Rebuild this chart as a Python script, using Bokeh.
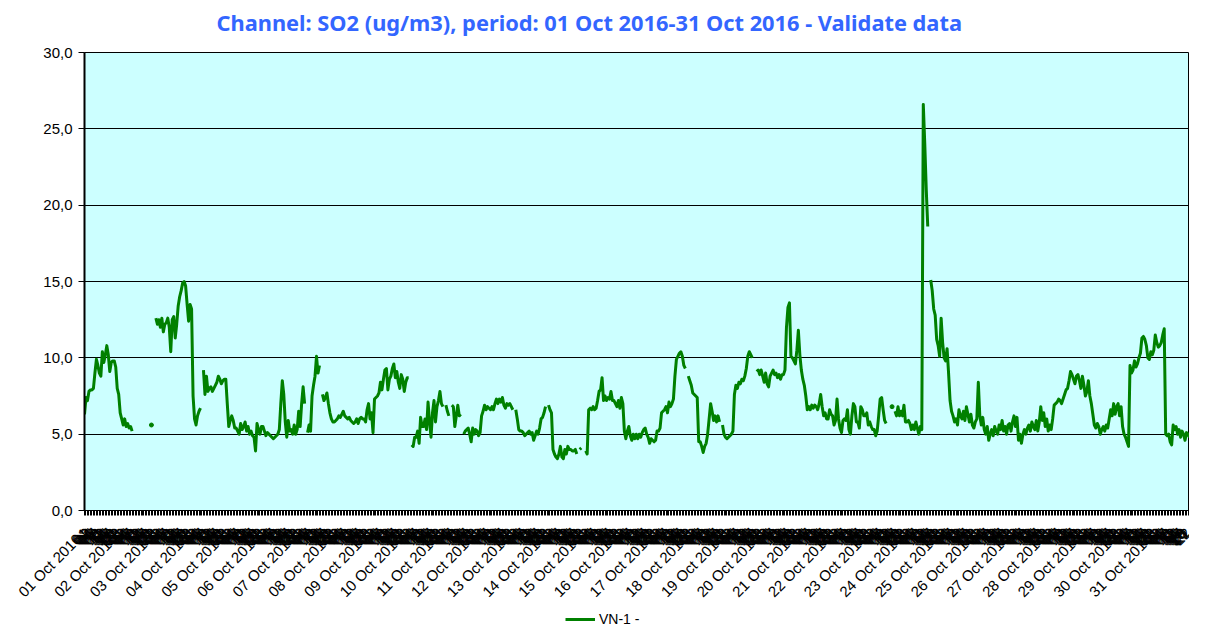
import math
from bokeh.plotting import figure
from bokeh.layouts import column
from bokeh.models import FixedTicker, Range1d, Legend, LegendItem, ColumnDataSource, Label
from bokeh.embed import file_html
from bokeh.resources import INLINE

nan = float("nan")

# Hourly SO2 values (ug/m3), one list per day of October 2016 (NaN = no data)
oct01 = [6.3, 7.4, 7.2, 7.8, 7.9, 7.9, 8.0, 9.0, 9.9, 9.5, 9.0, 8.8, 10.4, 9.7, 10.2, 10.8, 10.2, 9.1, 9.7, 9.8, 9.8, 9.4, 8.0, 7.6]
oct02 = [6.4, 6.0, 5.6, 6.0, 5.5, 5.7, 5.4, 5.5, 5.2, nan, nan, nan, nan, nan, nan, nan, nan, nan, nan, nan, nan, 5.6, nan, nan]
oct03 = [12.6, 12.2, 12.5, 12.0, 12.6, 11.7, 12.2, 12.3, 12.6, 12.0, 10.4, 12.5, 12.7, 11.3, 12.2, 13.4, 14.0, 14.4, 14.9, 15.0, 14.7, 13.5, 12.4, 13.5]
oct04 = [13.2, 7.5, 6.0, 5.6, 6.2, 6.5, 6.7, nan, 9.2, 7.6, 8.8, 7.8, 8.0, 8.1, 7.8, 8.0, 8.2, 8.4, 8.8, 8.6, 8.3, 8.5, 8.6, 8.6]
oct05 = [7.0, 5.5, 5.9, 6.2, 5.9, 5.4, 5.4, 5.2, 5.0, 5.7, 5.3, 5.5, 5.8, 5.2, 5.5, 5.0, 5.2, 4.9, 4.8, 3.9, 5.7, 5.3, 5.0, 5.5]
oct06 = [5.5, 5.2, 4.9, 5.1, 5.0, 4.9, 4.8, 4.7, 4.8, 4.9, 5.0, 5.3, 7.0, 8.5, 7.6, 5.8, 4.8, 5.9, 5.2, 5.3, 5.0, 5.6, 5.0, 5.3]
oct07 = [6.5, 5.5, 7.0, 8.1, 7.0, nan, 5.1, 5.6, 5.2, 7.5, 8.2, 8.8, 10.1, 9.0, 9.5, nan, 7.6, 7.2, 7.4, 7.7, 7.0, 6.4, 6.0, 5.8]
oct08 = [5.8, 5.9, 6.0, 6.2, 6.1, 6.3, 6.5, 6.2, 6.1, 6.0, 6.1, 5.9, 5.8, 5.7, 5.8, 6.0, 5.7, 6.0, 6.1, 6.0, 6.0, 5.8, 6.6, 7.0]
oct09 = [6.0, 6.4, 5.1, 7.3, 7.4, 7.5, 7.7, 8.4, 7.9, 8.6, 9.2, 9.3, 7.9, 8.6, 8.8, 9.3, 9.6, 8.7, 9.1, 8.4, 8.0, 8.9, 8.6, 7.8]
oct10 = [8.4, 8.7, 8.7, nan, 4.3, 4.2, 4.8, 4.8, 5.2, 4.4, 6.1, 5.5, 5.5, 6.0, 5.3, 7.1, 5.8, 4.8, 6.4, 7.2, 5.8, 6.8, 7.2, 7.8]
oct11 = [7.0, 6.8, nan, 6.9, 6.5, 6.2, nan, 6.9, 6.8, 5.5, 6.2, 6.9, 6.2, 6.3, nan, 5.0, 5.2, 5.3, 5.4, 5.0, 4.5, 5.4, 5.0, 5.3]
oct12 = [5.2, 4.9, 5.1, 6.2, 6.5, 6.9, 6.6, 6.8, 6.7, 6.6, 6.8, 6.6, 7.0, 7.3, 7.0, 7.3, 7.1, 7.4, 6.9, 6.7, 7.0, 6.9, 7.0, 6.8]
oct13 = [6.6, nan, 6.6, 6.0, 5.3, 5.2, 5.2, 5.1, 4.9, 5.0, 5.1, 5.2, 5.0, 5.1, 4.6, 4.9, 5.2, 5.0, 5.4, 6.0, 6.1, 6.4, 6.8, nan]
oct14 = [6.9, 6.6, 6.4, 4.0, 3.7, 3.5, 3.4, 3.7, 4.2, 3.5, 3.4, 4.0, 3.7, 4.2, 4.0, 4.0, 3.9, 3.9, 4.0, 3.7, nan, 4.0, 4.1, nan]
oct15 = [nan, 3.9, 3.7, 6.6, 6.7, 6.6, 6.8, 6.6, 6.7, 7.2, 7.8, 7.9, 8.7, 7.2, 7.5, 7.2, 7.4, 7.3, 7.8, 7.2, 7.2, 7.0, 6.8, 7.2]
oct16 = [6.7, 7.4, 7.0, 5.2, 4.7, 5.2, 5.5, 4.9, 4.6, 5.0, 4.7, 5.0, 4.7, 5.0, 4.8, 5.1, 5.3, 5.4, 5.0, 4.8, 4.4, 4.7, 4.6, 4.5]
oct17 = [4.6, 5.2, 5.2, 5.4, 6.4, 6.5, 6.6, 6.8, 6.4, 7.1, 6.8, 7.0, 7.3, 8.8, 9.9, 10.1, 10.3, 10.4, 10.1, 9.5, 9.3, nan, 8.8, 8.5]
oct18 = [8.2, 7.7, 7.6, 7.5, 7.4, 4.5, 4.5, 4.2, 3.8, 4.2, 4.4, 5.0, 6.0, 7.0, 6.5, 5.9, 6.2, 5.8, 6.2, 5.8, nan, 5.6, 5.0, 4.8]
oct19 = [4.7, 4.8, 4.9, 5.0, 5.2, 7.6, 8.2, 8.0, 8.4, 8.3, 8.6, 8.5, 8.8, 9.3, 10.1, 10.4, 10.2, 10.0, nan, nan, 9.1, 9.2, 8.9, 9.2]
oct20 = [8.8, 8.4, 9.0, 8.3, 8.1, 8.8, 9.0, 9.2, 8.9, 9.0, 8.7, 8.9, 8.6, 8.9, 8.9, 9.2, 12.0, 13.3, 13.6, 10.1, 10.0, 9.8, 9.6, 10.5]
oct21 = [11.8, 10.2, 9.2, 8.6, 8.2, 7.5, 6.6, 6.8, 6.6, 6.9, 6.7, 6.9, 6.8, 6.6, 7.0, 7.6, 6.8, 6.2, 6.4, 6.0, 6.0, 6.6, 6.3, 6.2]
oct22 = [5.6, 5.9, 7.3, 6.0, 5.4, 5.1, 5.9, 6.0, 5.9, 6.6, 5.3, 5.0, 6.2, 7.0, 6.8, 5.8, 5.8, 5.4, 6.8, 6.6, 6.2, 6.2, 6.4, 5.6]
oct23 = [5.8, 5.5, 5.3, 5.3, 4.9, 5.2, 6.2, 7.3, 7.4, 6.6, 5.9, 5.7, nan, nan, nan, 6.8, nan, 6.5, 6.2, 6.8, 6.2, 6.5, 6.2, 6.9]
oct24 = [5.8, 5.8, 5.9, 5.7, 5.3, 5.6, 5.3, 5.8, 5.4, 5.0, 5.5, 5.3, 26.6, 24.0, 21.0, 18.6, nan, 15.1, 14.4, 13.2, 12.8, 11.2, 10.8, 10.1]
oct25 = [12.6, 11.0, 10.0, 9.8, 10.6, 9.0, 7.2, 6.5, 6.2, 5.8, 6.0, 5.6, 6.6, 6.2, 6.0, 6.5, 5.9, 6.8, 6.3, 5.8, 6.3, 5.6, 5.4, 5.8]
oct26 = [6.0, 8.4, 6.2, 5.6, 6.1, 5.3, 5.0, 5.5, 4.6, 5.0, 5.3, 4.9, 5.5, 5.2, 5.0, 5.6, 5.3, 5.9, 5.2, 5.5, 5.0, 5.6, 5.7, 5.2]
oct27 = [5.8, 6.2, 5.5, 6.1, 4.6, 5.0, 4.4, 5.0, 5.3, 5.0, 5.4, 5.6, 5.2, 5.8, 5.5, 5.3, 5.9, 5.2, 5.8, 6.8, 5.9, 6.4, 5.5, 6.0]
oct28 = [5.2, 5.6, 5.3, 6.0, 6.9, 7.0, 7.1, 7.3, 7.2, 7.0, 7.3, 7.6, 7.9, 8.0, 8.5, 9.1, 8.9, 8.6, 8.3, 8.8, 8.9, 8.5, 8.0, 8.8]
oct29 = [8.2, 7.5, 7.8, 8.5, 7.5, 7.0, 6.3, 5.6, 5.4, 5.7, 5.5, 5.0, 5.3, 5.5, 5.2, 5.6, 5.4, 6.0, 6.6, 6.2, 7.0, 6.3, 6.8, 7.0]
oct30 = [6.2, 6.8, 5.5, 5.0, 4.8, 4.5, 4.2, 9.5, 9.0, 9.2, 9.8, 9.4, 9.6, 10.0, 10.3, 11.3, 11.4, 11.2, 10.8, 10.0, 9.9, 10.4, 10.2, 10.5]
oct31 = [11.5, 11.0, 10.7, 10.8, 11.0, 11.5, 11.9, 5.0, 4.9, 5.0, 4.5, 4.3, 5.6, 5.3, 5.5, 5.0, 5.3, 4.8, 5.2, 5.0, 4.6, 5.1, 5.0, 4.8]

days = [oct01, oct02, oct03, oct04, oct05, oct06, oct07, oct08, oct09, oct10,
        oct11, oct12, oct13, oct14, oct15, oct16, oct17, oct18, oct19, oct20,
        oct21, oct22, oct23, oct24, oct25, oct26, oct27, oct28, oct29, oct30, oct31]
day_names = ["%02d Oct 2016" % (i + 1) for i in range(len(days))]
y_ticks = [0, 5, 10, 15, 20, 25, 30]
y_tick_labels = ["0,0", "5,0", "10,0", "15,0", "20,0", "25,0", "30,0"]
title_text = "Channel: SO2 (ug/m3), period: 01 Oct 2016-31 Oct 2016 - Validate data"
series_name = "VN-1 -"

so2 = [v for d in days for v in d]
hours = list(range(len(so2)))

NB = "\u00a0"
x_labels = {}
for h in hours:
    if h % 24 == 0:
        x_labels[h] = day_names[h // 24] + NB * 2
    else:
        x_labels[h] = "%02d" % (h % 24)

GREEN = "#008000"
W = 1189


def strip(height):
    f = figure(width=W, height=height, x_range=Range1d(0, 1), y_range=Range1d(0, 1),
               output_backend="svg", toolbar_location=None,
               min_border_left=0, min_border_right=0, min_border_top=0, min_border_bottom=0,
               outline_line_color=None, border_fill_color="white", background_fill_color="white")
    f.axis.visible = False
    f.grid.visible = False
    return f


# title strip
tf = strip(44)
tf.add_layout(Label(x=132, y=22, x_units="screen", y_units="screen", text=title_text,
                    text_font="Noto Sans", text_font_style="bold", text_font_size="21.8px",
                    text_color="#3366FF", text_align="left", text_baseline="middle"))

# main chart
p = figure(width=W, height=565,
           x_range=Range1d(0, len(so2) - 1), y_range=Range1d(0, 30),
           output_backend="svg", toolbar_location=None,
           min_border_left=84, min_border_right=0, min_border_top=8, min_border_bottom=99,
           background_fill_color="#CCFFFF", border_fill_color="white")

p.outline_line_color = "black"
p.outline_line_width = 1

p.xgrid.visible = False
p.ygrid.grid_line_color = "black"
p.ygrid.grid_line_width = 1

# y axis
p.yaxis.ticker = FixedTicker(ticks=y_ticks)
p.yaxis.major_label_overrides = {t: s for t, s in zip(y_ticks, y_tick_labels)}
p.yaxis.major_label_text_font = "Liberation Sans"
p.yaxis.major_label_text_font_size = "15px"
p.yaxis.major_label_text_color = "black"
p.yaxis.axis_line_color = "black"
p.yaxis.axis_line_width = 2
p.yaxis.major_tick_out = 6
p.yaxis.major_tick_in = 0
p.yaxis.major_tick_line_color = "black"
p.yaxis.minor_tick_line_color = None
p.yaxis.major_label_standoff = 6

# x axis
p.xaxis.ticker = FixedTicker(ticks=hours)
p.xaxis.major_label_overrides = x_labels
p.xaxis.major_label_orientation = math.pi / 4
p.xaxis.major_label_text_font = "Liberation Sans"
p.xaxis.major_label_text_font_size = "15px"
p.xaxis.major_label_text_color = "black"
p.xaxis.axis_line_color = "black"
p.xaxis.major_tick_out = 5
p.xaxis.major_tick_in = 0
p.xaxis.major_tick_line_color = "black"
p.xaxis.minor_tick_line_color = None
p.xaxis.major_label_standoff = 15

src = ColumnDataSource(dict(h=hours, v=so2))
p.line("h", "v", source=src, line_color=GREEN, line_width=3, line_join="round")

# isolated readings (no neighbour on either side) are drawn as dots
iso_h, iso_v = [], []
for i, v in enumerate(so2):
    if v == v:
        left = so2[i - 1] if i > 0 else nan
        right = so2[i + 1] if i < len(so2) - 1 else nan
        if left != left and right != right:
            iso_h.append(hours[i])
            iso_v.append(v)
p.scatter(iso_h, iso_v, size=4, color=GREEN)

# legend strip below the chart
lg = strip(19)
dummy = lg.line([nan], [nan], line_color=GREEN, line_width=3)
legend = Legend(items=[LegendItem(label=series_name, renderers=[dummy])],
                location=(481, 1), orientation="horizontal")
legend.border_line_color = None
legend.background_fill_alpha = 0
legend.label_text_font = "Liberation Sans"
legend.label_text_font_size = "14px"
legend.label_text_color = "black"
legend.glyph_width = 30
legend.glyph_height = 16
legend.label_standoff = 4
legend.padding = 0
legend.margin = 0
lg.add_layout(legend)

layout = column(tf, p, lg, spacing=0)
open("out.html", "w").write(file_html(layout, INLINE))
